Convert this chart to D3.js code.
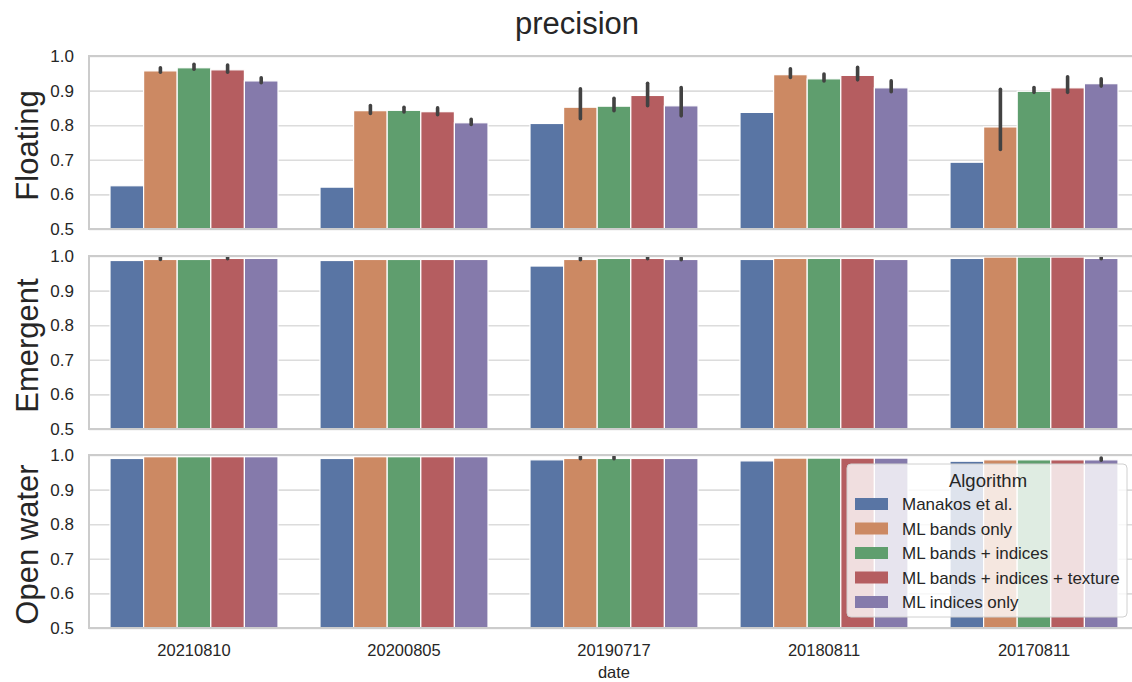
<!DOCTYPE html>
<html>
<head>
<meta charset="utf-8">
<script src="https://cdn.jsdelivr.net/npm/d3@7"></script>
<style>
  html, body { margin: 0; padding: 0; background: #ffffff; }
  svg { display: block; font-family: "Liberation Sans", Arial, sans-serif; }
</style>
</head>
<body>
<svg id="chart" width="1132" height="682"></svg>
<script>
// Acquisition dates (x categories) and classification algorithms (hue)
const dates = ["20210810", "20200805", "20190717", "20180811", "20170811"];
const algorithms = [
  "Manakos et al.",
  "ML bands only",
  "ML bands + indices",
  "ML bands + indices + texture",
  "ML indices only"
];
const colors = ["#5975a4", "#cc8963", "#5f9e6e", "#b55d60", "#857aab"];
const panelNames = ["Floating", "Emergent", "Open water"];
const yTicks = [0.5, 0.6, 0.7, 0.8, 0.9, 1.0];

// Mean precision, one row per algorithm, one column per date
const floatingMean = [
  [0.625, 0.621, 0.805, 0.837, 0.693],
  [0.957, 0.842, 0.852, 0.946, 0.795],
  [0.966, 0.843, 0.855, 0.934, 0.898],
  [0.960, 0.839, 0.886, 0.944, 0.908],
  [0.928, 0.807, 0.856, 0.908, 0.920]
];
const floatingLow = [
  [null, null, null, null, null],
  [0.953, 0.834, 0.819, 0.938, 0.730],
  [0.962, 0.838, 0.842, 0.928, 0.895],
  [0.953, 0.830, 0.856, 0.931, 0.895],
  [0.923, 0.802, 0.827, 0.897, 0.913]
];
const floatingHigh = [
  [null, null, null, null, null],
  [0.966, 0.857, 0.905, 0.963, 0.904],
  [0.976, 0.852, 0.878, 0.948, 0.909],
  [0.974, 0.850, 0.921, 0.967, 0.940],
  [0.937, 0.817, 0.909, 0.928, 0.934]
];

const emergentMean = [
  [0.987, 0.987, 0.971, 0.990, 0.993],
  [0.990, 0.990, 0.990, 0.993, 0.997],
  [0.990, 0.990, 0.993, 0.993, 0.997],
  [0.993, 0.990, 0.993, 0.993, 0.997],
  [0.993, 0.990, 0.990, 0.990, 0.993]
];
const emergentLow = [
  [null, null, null, null, null],
  [0.990, null, 0.989, null, null],
  [null, null, null, null, null],
  [0.992, null, 0.992, null, null],
  [null, null, 0.989, null, 0.992]
];
const emergentHigh = [
  [null, null, null, null, null],
  [0.996, null, 0.995, null, null],
  [null, null, null, null, null],
  [0.997, null, 0.997, null, null],
  [null, null, 0.995, null, 0.997]
];

const openMean = [
  [0.990, 0.990, 0.986, 0.983, 0.982],
  [0.995, 0.995, 0.990, 0.991, 0.986],
  [0.995, 0.995, 0.990, 0.991, 0.986],
  [0.995, 0.995, 0.990, 0.991, 0.986],
  [0.995, 0.995, 0.990, 0.991, 0.986]
];
const openLow = [
  [null, null, null, null, null],
  [null, null, 0.989, null, null],
  [null, null, 0.989, null, null],
  [null, null, null, null, null],
  [null, null, null, null, 0.985]
];
const openHigh = [
  [null, null, null, null, null],
  [null, null, 0.995, null, null],
  [null, null, 0.995, null, null],
  [null, null, null, null, null],
  [null, null, null, null, 0.991]
];

const panels = [
  { name: panelNames[0], mean: floatingMean, low: floatingLow, high: floatingHigh },
  { name: panelNames[1], mean: emergentMean, low: emergentLow, high: emergentHigh },
  { name: panelNames[2], mean: openMean, low: openLow, high: openHigh }
];

const svg = d3.select("#chart");
const textColor = "#262626";
const gridColor = "#dcdcdc";
const frameColor = "#cccccc";

const plotLeft = 89, plotRight = 1139;
const panelTops = [56, 256, 455];
const panelHeight = 173;

const x = d3.scaleBand().domain(dates).range([plotLeft, plotRight]).padding(0);
const bw = x.bandwidth();
const xInner = d3.scaleBand().domain(algorithms).range([0.1 * bw, 0.9 * bw]).padding(0);
const color = d3.scaleOrdinal().domain(algorithms).range(colors);

// Figure title
svg.append("text")
  .attr("x", 577).attr("y", 34)
  .attr("text-anchor", "middle")
  .attr("font-size", 31)
  .attr("fill", textColor)
  .text("precision");

panels.forEach((p, pi) => {
  const top = panelTops[pi];
  const y = d3.scaleLinear().domain([0.5, 1.0]).range([top + panelHeight, top]);
  const g = svg.append("g");

  // horizontal grid lines and tick labels
  const yAxis = d3.axisLeft(y).tickValues(yTicks).tickFormat(d3.format(".1f"))
    .tickSize(-(plotRight - plotLeft)).tickPadding(15);
  const ag = g.append("g").attr("transform", `translate(${plotLeft},0)`).call(yAxis);
  ag.select(".domain").remove();
  ag.selectAll(".tick line").attr("stroke", gridColor).attr("stroke-width", 1.6);
  ag.selectAll(".tick text")
    .attr("font-size", 17).attr("fill", textColor)
    .attr("font-family", "'Liberation Sans', Arial, sans-serif");

  // bars
  const rows = [];
  algorithms.forEach((a, ai) => {
    dates.forEach((d, di) => {
      rows.push({ alg: a, date: d, v: p.mean[ai][di], lo: p.low[ai][di], hi: p.high[ai][di] });
    });
  });

  g.append("g").selectAll("rect").data(rows).join("rect")
    .attr("x", r => x(r.date) + xInner(r.alg))
    .attr("width", xInner.bandwidth())
    .attr("y", r => y(r.v))
    .attr("height", r => y(0.5) - y(r.v))
    .attr("fill", r => color(r.alg))
    .attr("stroke", "#ffffff")
    .attr("stroke-width", 1.2);

  // confidence intervals
  g.append("g").selectAll("line").data(rows.filter(r => r.lo !== null)).join("line")
    .attr("x1", r => x(r.date) + xInner(r.alg) + xInner.bandwidth() / 2)
    .attr("x2", r => x(r.date) + xInner(r.alg) + xInner.bandwidth() / 2)
    .attr("y1", r => y(r.lo))
    .attr("y2", r => y(r.hi))
    .attr("stroke", "#424242")
    .attr("stroke-width", 3.6)
    .attr("stroke-linecap", "round");

  // axes frame
  g.append("rect")
    .attr("x", plotLeft).attr("y", top)
    .attr("width", plotRight - plotLeft).attr("height", panelHeight)
    .attr("fill", "none").attr("stroke", frameColor).attr("stroke-width", 2);

  // panel label
  svg.append("text")
    .attr("transform", `translate(38,${top + panelHeight / 2 + 3}) rotate(-90)`)
    .attr("text-anchor", "middle")
    .attr("font-size", 31)
    .attr("fill", textColor)
    .text(p.name);

  // x tick labels on the bottom panel
  if (pi === panels.length - 1) {
    const xAxis = d3.axisBottom(x).tickSize(0).tickPadding(16);
    const xg = svg.append("g").attr("transform", `translate(0,${top + panelHeight})`).call(xAxis);
    xg.select(".domain").remove();
    xg.selectAll(".tick text")
      .attr("font-size", 16.5).attr("fill", textColor)
      .attr("font-family", "'Liberation Sans', Arial, sans-serif");
    svg.append("text")
      .attr("x", (plotLeft + plotRight) / 2).attr("y", top + panelHeight + 50)
      .attr("text-anchor", "middle")
      .attr("font-size", 16.5).attr("fill", textColor)
      .text("date");

    // legend
    const lg = svg.append("g");
    lg.append("rect")
      .attr("x", 847).attr("y", 464).attr("width", 280).attr("height", 153)
      .attr("rx", 4).attr("ry", 4)
      .attr("fill", "#ffffff").attr("fill-opacity", 0.8)
      .attr("stroke", "#d0d0d0").attr("stroke-width", 1);
    lg.append("text")
      .attr("x", 988).attr("y", 487)
      .attr("text-anchor", "middle")
      .attr("font-size", 18.5).attr("fill", textColor)
      .text("Algorithm");
    const items = lg.selectAll("g.item").data(algorithms).join("g")
      .attr("class", "item")
      .attr("transform", (a, i) => `translate(855,${504 + i * 24.5})`);
    items.append("rect")
      .attr("x", 0).attr("y", -6).attr("width", 33).attr("height", 12)
      .attr("fill", a => color(a));
    items.append("text")
      .attr("x", 47).attr("y", 6)
      .attr("font-size", 17).attr("fill", textColor)
      .text(a => a);
  }
});
</script>
</body>
</html>
